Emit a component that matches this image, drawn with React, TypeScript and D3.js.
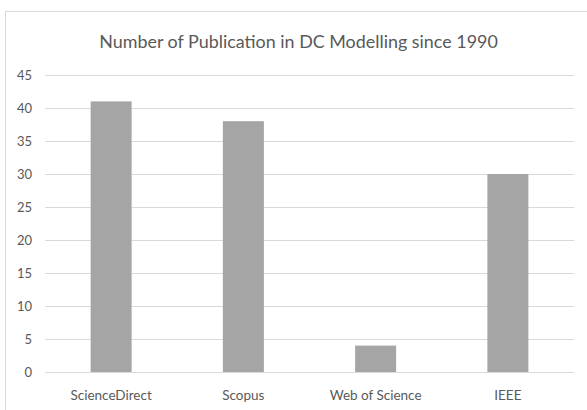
import React from "react";
import * as d3 from "d3";

const categories = ["ScienceDirect", "Scopus", "Web of Science", "IEEE"];
const values = [41, 38, 4, 30];
const yTicks = [0, 5, 10, 15, 20, 25, 30, 35, 40, 45];
const title = "Number of Publication in DC Modelling since 1990";

export default function App() {
  const W = 587, H = 410;
  const left = 45, right = 574, top = 75, bottom = 372;
  const x = d3.scaleBand<string>().domain(categories).range([left, right]).paddingInner(0.69).paddingOuter(0.345);
  const y = d3.scaleLinear().domain([0, 45]).range([bottom, top]);
  const font = "Lato, 'Open Sans', sans-serif";
  return (
    <svg width={W} height={H} style={{ position: "absolute", left: 0, top: 0 }}>
      <rect x={0} y={0} width={W} height={H} fill="#fff" />
      <rect x={5.5} y={11.5} width={W} height={H} fill="#fff" stroke="#d9d9d9" strokeWidth={1} />
      <text x={298.5} y={48} textAnchor="middle" fontFamily={font} fontSize={17.9} fill="#595959">{title}</text>
      {yTicks.map((t) => (
        <g key={t}>
          <line x1={left} x2={right} y1={Math.round(y(t)) + 0.5} y2={Math.round(y(t)) + 0.5} stroke="#d9d9d9" strokeWidth={1} />
          <text x={32} y={y(t) + 4.8} textAnchor="end" fontFamily={font} fontSize={13} fill="#595959">{t}</text>
        </g>
      ))}
      {categories.map((c, i) => (
        <rect key={c} x={x(c)!} y={y(values[i])} width={x.bandwidth()} height={y(0) - y(values[i])} fill="#a5a5a5" />
      ))}
      {categories.map((c) => (
        <text key={c} x={x(c)! + x.bandwidth() / 2} y={399.5} textAnchor="middle" fontFamily={font} fontSize={13.5} fill="#595959">{c}</text>
      ))}
    </svg>
  );
}
